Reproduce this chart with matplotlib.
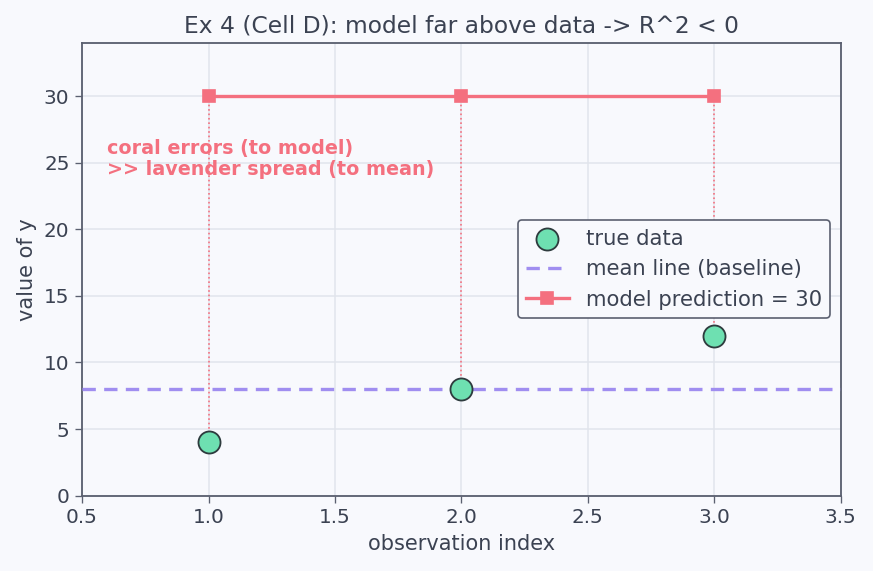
import matplotlib
matplotlib.use("Agg")
import matplotlib.pyplot as plt

x_obs = [1, 2, 3]
y_true = [4, 8, 12]
y_mean = 8
y_model = [30, 30, 30]

bg = '#f8f9fd'
txt = '#3b4252'
coral = '#f4707f'
lav = '#a08ef0'
mint = '#6ee0b1'

plt.rcParams['font.family'] = 'DejaVu Sans'
plt.rcParams['text.color'] = txt
plt.rcParams['axes.labelcolor'] = txt
plt.rcParams['xtick.color'] = txt
plt.rcParams['ytick.color'] = txt

fig, ax = plt.subplots(figsize=(7.275, 4.759), dpi=120)
fig.patch.set_facecolor(bg)
ax.set_facecolor(bg)

ax.grid(True, color='#e1e4ec', linewidth=0.9, zorder=0)
ax.set_axisbelow(True)

# residual lines from data to model
for xi, yt, ym in zip(x_obs, y_true, y_model):
    ax.plot([xi, xi], [yt, ym], color=coral, linestyle=':', linewidth=1.0, zorder=2)

ax.axhline(y_mean, color=lav, linestyle='--', linewidth=2.0, dashes=(4, 2.5),
           label='mean line (baseline)', zorder=3)
ax.plot(x_obs, y_model, color=coral, linewidth=2.0, marker='s', markersize=7.5,
        label='model prediction = 30', zorder=4)
ax.scatter(x_obs, y_true, s=175, color=mint, edgecolor='#2e3b3e', linewidth=1.1,
           label='true data', zorder=5)

ax.text(0.6, 25.3, 'coral errors (to model)\n>> lavender spread (to mean)',
        color=coral, fontsize=11.5, fontweight='bold', va='center', ha='left',
        linespacing=1.15)

ax.set_xlim(0.5, 3.5)
ax.set_ylim(0, 34)
ax.set_xticks([0.5, 1.0, 1.5, 2.0, 2.5, 3.0, 3.5])
ax.set_yticks([0, 5, 10, 15, 20, 25, 30])
ax.tick_params(labelsize=12, length=4, color='#5b6070')
for s in ax.spines.values():
    s.set_color('#5b6070')
    s.set_linewidth(1.1)

ax.set_title('Ex 4 (Cell D): model far above data -> R^2 < 0', fontsize=14, color=txt)
ax.set_xlabel('observation index', fontsize=12.5)
ax.set_ylabel('value of y', fontsize=12.5)

handles, labels = ax.get_legend_handles_labels()
order = [2, 0, 1]
leg = ax.legend([handles[i] for i in order], [labels[i] for i in order],
                loc='center right', fontsize=12.7, facecolor=bg, edgecolor='#5b6070',
                framealpha=1.0, borderaxespad=0.5)
leg.get_frame().set_linewidth(1.0)

fig.subplots_adjust(left=0.094, right=0.963, top=0.925, bottom=0.132)
fig.savefig('out.png', dpi=120, facecolor=bg)
